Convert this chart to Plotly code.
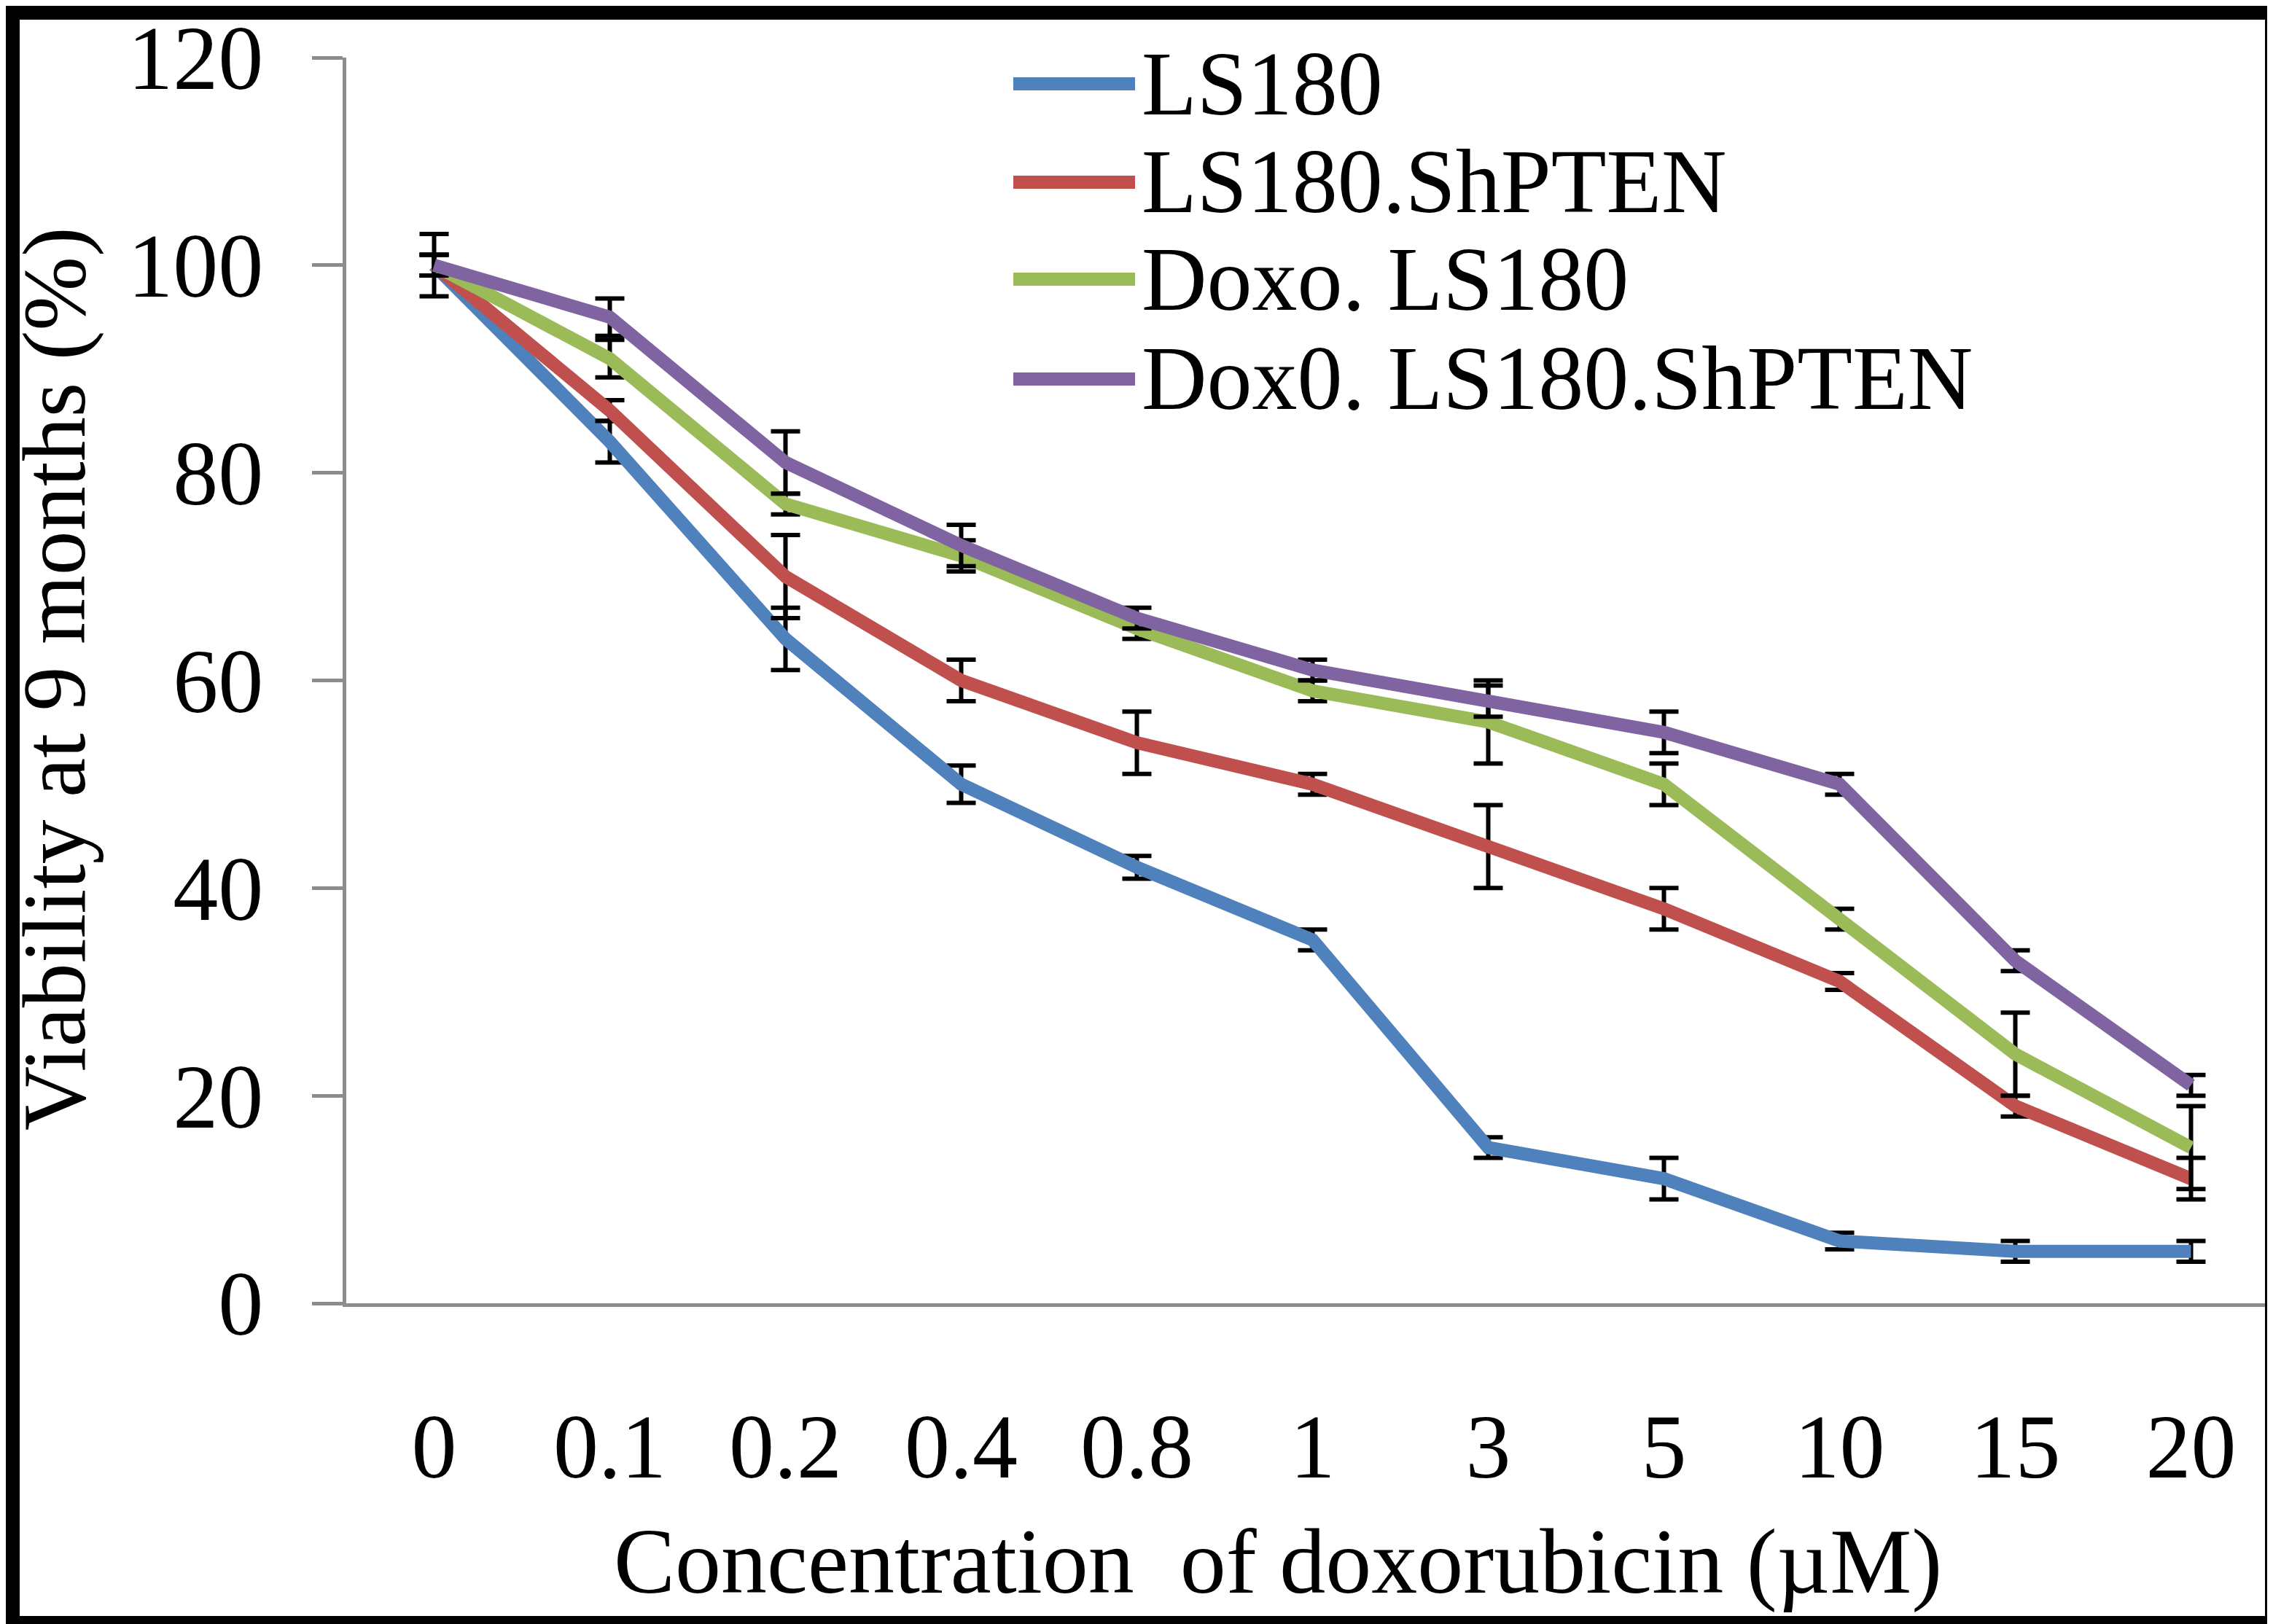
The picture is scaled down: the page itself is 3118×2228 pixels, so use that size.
import plotly.graph_objects as go

concentrations = ["0", "0.1", "0.2", "0.4", "0.8", "1", "3", "5", "10", "15", "20"]

series_names = ["LS180", "LS180.ShPTEN", "Doxo. LS180", "Dox0. LS180.ShPTEN"]
ls180 = [100, 83, 64, 50, 42, 35, 15, 12, 6, 5, 5]
ls180_err = [3, 2, 3, 1.8, 1.1, 1, 1, 2, 0.8, 1, 1]
ls180_shpten = [100, 86, 70, 60, 54, 50, 44, 38, 31, 19, 12]
ls180_shpten_err = [1, 1, 4, 2, 3, 1, 4, 2, 0.8, 1, 2]
doxo_ls180 = [100, 91, 77, 72, 65, 59, 56, 50, 37, 24, 15]
doxo_ls180_err = [1, 1.8, 1, 1.5, 1, 1, 4, 2, 1, 4, 4]
doxo_ls180_shpten = [100, 95, 81, 73, 66, 61, 58, 55, 50, 33, 21]
doxo_ls180_shpten_err = [1, 1.8, 3, 2, 1, 1, 1.5, 2, 1, 1, 1]

colors = ["#4F81BD", "#C0504D", "#9BBB59", "#8064A2"]
values = [ls180, ls180_shpten, doxo_ls180, doxo_ls180_shpten]
errors = [ls180_err, ls180_shpten_err, doxo_ls180_err, doxo_ls180_shpten_err]

W, H = 3118, 2228
L, R, T, B = 467, 0, 71, 448
pw, ph = W - L - R, H - T - B

def px_x(p):
    return (p - L) / pw

def px_y(p):
    return (H - B - p) / ph

FONT = "Liberation Serif, Times New Roman, serif"

fig = go.Figure()
for name, vals, errs, col in zip(series_names, values, errors, colors):
    fig.add_trace(go.Scatter(
        x=concentrations, y=vals, name=name, mode="lines",
        line=dict(color=col, width=18),
        error_y=dict(type="data", array=errs, visible=True,
                     color="black", thickness=6, width=20),
        showlegend=False,
    ))

shapes = []
annotations = []
legend_rows = [107, 242, 375, 512]
for name, col, ry in zip(series_names, colors, legend_rows):
    shapes.append(dict(type="line", xref="paper", yref="paper",
                       x0=px_x(1382), x1=px_x(1549), y0=px_y(ry), y1=px_y(ry),
                       line=dict(color=col, width=18)))
    annotations.append(dict(xref="paper", yref="paper", x=px_x(1556), y=px_y(ry),
                            xanchor="left", yanchor="middle", text=name, showarrow=False,
                            font=dict(family=FONT, size=124, color="black")))

annotations.append(dict(xref="paper", yref="paper", x=px_x(1745), y=px_y(2135),
                        xanchor="center", yanchor="middle",
                        text="Concentration  of doxorubicin (\u00b5M)", showarrow=False,
                        font=dict(family=FONT, size=126, color="black")))
annotations.append(dict(xref="paper", yref="paper", x=px_x(67), y=px_y(923),
                        xanchor="center", yanchor="middle", textangle=-90,
                        text="Viability at 9 months (%)", showarrow=False,
                        font=dict(family=FONT, size=122, color="black")))

# black frame around the whole picture
shapes.append(dict(type="rect", xref="paper", yref="paper",
                   x0=px_x(0), x1=px_x(W), y0=px_y(H), y1=px_y(0),
                   line=dict(color="black", width=38), fillcolor="rgba(0,0,0,0)",
                   layer="above"))

fig.update_layout(
    width=W, height=H,
    margin=dict(l=L, r=R, t=T, b=B, pad=0),
    paper_bgcolor="white", plot_bgcolor="white",
    shapes=shapes, annotations=annotations,
    xaxis=dict(type="category", range=[-0.5, 10.5], showgrid=False, zeroline=False,
               showline=True, linecolor="#8C8C8C", linewidth=5, ticks="",
               tickfont=dict(family=FONT, size=124, color="black"),
               ticklabelstandoff=85),
    yaxis=dict(range=[0, 120], dtick=20, showgrid=False, zeroline=False,
               showline=True, linecolor="#8C8C8C", linewidth=5,
               ticks="outside", ticklen=42, tickwidth=5, tickcolor="#8C8C8C",
               tickfont=dict(family=FONT, size=124, color="black"),
               ticklabelstandoff=42),
)

fig.write_html("out.html")
